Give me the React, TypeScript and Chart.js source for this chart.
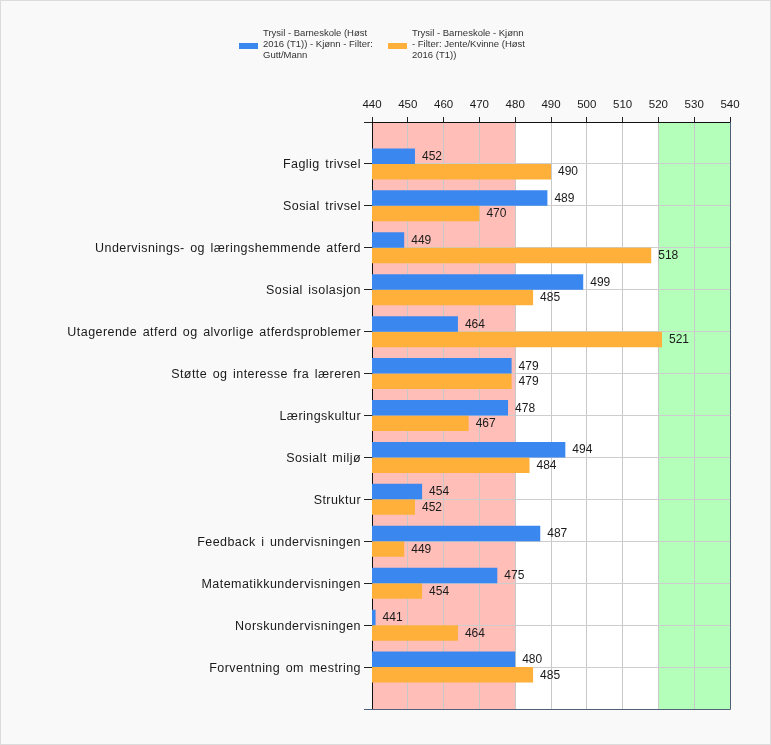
import React, { useEffect, useRef } from "react";
import { Chart, registerables } from "chart.js";

Chart.register(...registerables);

const categories = [
  "Faglig trivsel",
  "Sosial trivsel",
  "Undervisnings- og læringshemmende atferd",
  "Sosial isolasjon",
  "Utagerende atferd og alvorlige atferdsproblemer",
  "Støtte og interesse fra læreren",
  "Læringskultur",
  "Sosialt miljø",
  "Struktur",
  "Feedback i undervisningen",
  "Matematikkundervisningen",
  "Norskundervisningen",
  "Forventning om mestring",
];

const boysValues = [452, 489, 449, 499, 464, 479, 478, 494, 454, 487, 475, 441, 480];
const girlsValues = [490, 470, 518, 485, 521, 479, 467, 484, 452, 449, 454, 464, 485];

const seriesLabels = [
  ["Trysil - Barneskole (Høst", "2016 (T1)) - Kjønn - Filter:", "Gutt/Mann"],
  ["Trysil - Barneskole - Kjønn", "- Filter: Jente/Kvinne (Høst", "2016 (T1))"],
];

const xMin = 440;
const xMax = 540;
const xStep = 10;
const lowBand = [440, 480];
const highBand = [520, 540];

const BLUE = "rgb(59,135,240)";
const ORANGE = "rgb(255,176,59)";
const FONT = "'Liberation Sans', Arial, sans-serif";

export default function App() {
  const ref = useRef<HTMLCanvasElement>(null);

  useEffect(() => {
    const canvas = ref.current;
    if (!canvas) return;

    const labels = ["", ...categories, ""];
    const pad = (arr: number[]) => [null, ...arr, null];

    const bgPlugin = {
      id: "bands",
      beforeDraw(chart: any) {
        const { ctx, chartArea } = chart;
        const x = chart.scales.x;
        ctx.save();
        ctx.fillStyle = "#ffffff";
        ctx.fillRect(chartArea.left, chartArea.top, chartArea.right - chartArea.left, chartArea.bottom - chartArea.top);
        const band = (range: number[], color: string) => {
          const a = x.getPixelForValue(range[0]);
          const b = x.getPixelForValue(range[1]);
          ctx.fillStyle = color;
          ctx.fillRect(a, chartArea.top, b - a, chartArea.bottom - chartArea.top);
        };
        band(lowBand, "rgb(255,190,184)");
        band(highBand, "rgb(180,255,185)");
        ctx.restore();
      },
      afterDraw(chart: any) {
        const { ctx, chartArea } = chart;
        ctx.save();
        ctx.strokeStyle = "rgb(80,96,120)";
        ctx.lineWidth = 1;
        ctx.beginPath();
        ctx.moveTo(chartArea.left - 8, Math.round(chartArea.bottom) + 0.5);
        ctx.lineTo(Math.round(chartArea.right) + 0.5, Math.round(chartArea.bottom) + 0.5);
        ctx.lineTo(Math.round(chartArea.right) + 0.5, chartArea.top);
        ctx.stroke();

        // category labels (wider GDI-like spacing)
        const y = chart.scales.y;
        ctx.font = `12.5px ${FONT}`;
        ctx.fillStyle = "#1a1a1a";
        ctx.textAlign = "right";
        ctx.textBaseline = "middle";
        (ctx as any).letterSpacing = "0.45px";
        (ctx as any).wordSpacing = "1.6px";
        labels.forEach((lab, i) => {
          if (!lab) return;
          ctx.fillText(lab, chartArea.left - 11, y.getPixelForTick(i) + 1);
        });
        (ctx as any).letterSpacing = "0px";
        (ctx as any).wordSpacing = "0px";

        // value labels
        ctx.font = `12px ${FONT}`;
        ctx.fillStyle = "#1a1a1a";
        ctx.textAlign = "left";
        ctx.textBaseline = "middle";
        chart.data.datasets.forEach((ds: any, i: number) => {
          const meta = chart.getDatasetMeta(i);
          meta.data.forEach((el: any, j: number) => {
            const v = ds.data[j];
            if (v == null) return;
            ctx.fillText(String(v), el.x + 7, el.y + 0.5);
          });
        });

        // legend
        ctx.font = `9.5px ${FONT}`;
        ctx.textBaseline = "middle";
        const items = [
          { color: BLUE, box: 238, text: 262, lines: seriesLabels[0] },
          { color: ORANGE, box: 387, text: 411, lines: seriesLabels[1] },
        ];
        items.forEach((it) => {
          ctx.fillStyle = it.color;
          ctx.fillRect(it.box, 42, 19, 6);
          ctx.fillStyle = "#333";
          it.lines.forEach((ln, k) => ctx.fillText(ln, it.text, 32 + k * 11.3));
        });
        ctx.restore();
      },
    };

    const chart = new Chart(canvas, {
      type: "bar",
      data: {
        labels,
        datasets: [
          { label: seriesLabels[0].join(" "), data: pad(boysValues) as any, backgroundColor: BLUE },
          { label: seriesLabels[1].join(" "), data: pad(girlsValues) as any, backgroundColor: ORANGE },
        ],
      },
      options: {
        indexAxis: "y",
        responsive: false,
        animation: false,
        events: [],
        categoryPercentage: 0.74,
        barPercentage: 1,
        layout: { padding: { top: 60, right: 40, bottom: 35, left: 0 } },
        plugins: { legend: { display: false }, tooltip: { enabled: false } },
        scales: {
          x: {
            position: "top",
            min: xMin,
            max: xMax,
            afterFit: (s: any) => {
              s.height = 61;
            },
            ticks: {
              stepSize: xStep,
              padding: 5,
              color: "#1a1a1a",
              font: { family: FONT, size: 11.5 },
            },
            grid: {
              color: "rgb(200,200,200)",
              tickColor: "#222",
              tickLength: 5,
            },
            border: { color: "#111", width: 1 },
          },
          y: {
            offset: false,
            afterFit: (s: any) => {
              s.width = 371;
            },
            ticks: {
              autoSkip: false,
              padding: 4,
              color: "rgba(0,0,0,0)",
              font: { family: FONT, size: 12 },
            },
            grid: {
              offset: false,
              color: "rgb(205,205,205)",
              tickColor: "#222",
              tickLength: 8,
            },
            border: { color: "#111", width: 1 },
          },
        },
      },
      plugins: [bgPlugin],
    });

    return () => chart.destroy();
  }, []);

  return (
    <div
      style={{
        position: "absolute",
        left: 0,
        top: 0,
        width: 769,
        height: 743,
        background: "#f9f9f9",
        border: "1px solid #dcdcdc",
      }}
    >
      <canvas ref={ref} width={769} height={743} style={{ display: "block" }} />
    </div>
  );
}
